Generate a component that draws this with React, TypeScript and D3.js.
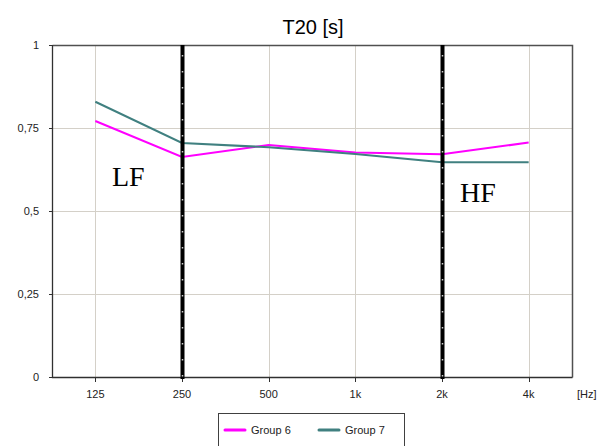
import React, { useEffect, useRef } from 'react';
import * as d3 from 'd3';

const bands = ['125', '250', '500', '1k', '2k', '4k'];
const group6 = [0.771, 0.663, 0.699, 0.676, 0.671, 0.706];
const group7 = [0.829, 0.705, 0.692, 0.672, 0.647, 0.647];
const yTicks = [0, 0.25, 0.5, 0.75, 1];
const yTickLabels = ['0', '0,25', '0,5', '0,75', '1'];
const markers = ['250', '2k'];
const seriesNames = ['Group 6', 'Group 7'];
const seriesColors = ['#ff00ff', '#408080'];

const App = () => {
  const svgRef = useRef<SVGSVGElement>(null);

  useEffect(() => {
    const width = 603;
    const height = 446;
    const left = 52, right = 572, top = 45, bottom = 377;
    const font = '"Liberation Sans", Arial, sans-serif';

    const svg = d3.select(svgRef.current)
      .attr('width', width)
      .attr('height', height);
    svg.selectAll('*').remove();

    svg.append('rect').attr('width', width).attr('height', height).attr('fill', '#fff');

    const x = d3.scaleBand().domain(bands).range([left, right]);
    const cx = (d: string) => (x(d) as number) + x.bandwidth() / 2;
    const y = d3.scaleLinear().domain([0, 1]).range([bottom, top]);

    // title
    svg.append('text')
      .attr('x', 313)
      .attr('y', 34)
      .attr('text-anchor', 'middle')
      .style('font-family', font)
      .style('font-size', '20px')
      .text('T20 [s]');

    // grid
    const grid = svg.append('g').attr('stroke', '#d4d0c8').attr('stroke-width', 1);
    grid.selectAll('line.h')
      .data(yTicks.slice(1, -1))
      .enter()
      .append('line')
      .attr('x1', left).attr('x2', right)
      .attr('y1', d => Math.round(y(d)) + 0.5).attr('y2', d => Math.round(y(d)) + 0.5);
    grid.selectAll('line.v')
      .data(bands)
      .enter()
      .append('line')
      .attr('x1', d => Math.round(cx(d)) + 0.5).attr('x2', d => Math.round(cx(d)) + 0.5)
      .attr('y1', top).attr('y2', bottom);

    // frame
    svg.append('path')
      .attr('d', `M${left + 0.5},${top + 0.5}H${right + 0.5}V${bottom + 0.5}`)
      .attr('fill', 'none')
      .attr('stroke', '#505050')
      .attr('stroke-width', 1.5);
    svg.append('path')
      .attr('d', `M${left + 0.5},${top}V${bottom + 0.5}H${right + 0.5}`)
      .attr('fill', 'none')
      .attr('stroke', '#303030')
      .attr('stroke-width', 1.3);

    // y ticks
    const yAxis = svg.append('g');
    yAxis.selectAll('line')
      .data(yTicks)
      .enter()
      .append('line')
      .attr('x1', left - 3).attr('x2', left)
      .attr('y1', d => Math.round(y(d)) + 0.5).attr('y2', d => Math.round(y(d)) + 0.5)
      .attr('stroke', '#303030');
    yAxis.selectAll('text')
      .data(yTicks)
      .enter()
      .append('text')
      .attr('x', 39)
      .attr('y', d => y(d) + 4)
      .attr('text-anchor', 'end')
      .style('font-family', font)
      .style('font-size', '11px')
      .style('fill', '#222')
      .text((d, i) => yTickLabels[i]);

    // x ticks
    const xAxis = svg.append('g');
    xAxis.selectAll('line')
      .data(bands)
      .enter()
      .append('line')
      .attr('x1', d => Math.round(cx(d)) + 0.5).attr('x2', d => Math.round(cx(d)) + 0.5)
      .attr('y1', bottom).attr('y2', bottom + 5)
      .attr('stroke', '#303030');
    xAxis.selectAll('text')
      .data(bands)
      .enter()
      .append('text')
      .attr('x', d => cx(d))
      .attr('y', 398)
      .attr('text-anchor', 'middle')
      .style('font-family', font)
      .style('font-size', '11px')
      .style('fill', '#222')
      .text(d => d);
    svg.append('text')
      .attr('x', 577)
      .attr('y', 398)
      .style('font-family', font)
      .style('font-size', '11px')
      .style('fill', '#222')
      .text('[Hz]');

    // series
    const line = d3.line<number>()
      .x((d, i) => cx(bands[i]))
      .y(d => y(d));
    [group6, group7].forEach((s, k) => {
      svg.append('path')
        .datum(s)
        .attr('d', line)
        .attr('fill', 'none')
        .attr('stroke', seriesColors[k])
        .attr('stroke-width', 2);
    });

    // LF / HF markers
    markers.forEach(m => {
      const mx = Math.round(cx(m)) + 0.5;
      svg.append('line')
        .attr('x1', mx).attr('x2', mx)
        .attr('y1', top).attr('y2', bottom + 2)
        .attr('stroke', '#000')
        .attr('stroke-width', 4);
      svg.append('line')
        .attr('x1', mx).attr('x2', mx)
        .attr('y1', top + 10).attr('y2', bottom)
        .attr('stroke', '#ccc')
        .attr('stroke-width', 1.5)
        .attr('stroke-dasharray', '1.5,14.5');
    });

    svg.append('text')
      .attr('x', 112).attr('y', 186)
      .style('font-family', '"Liberation Serif", "Times New Roman", serif')
      .style('font-size', '28px')
      .text('LF');
    svg.append('text')
      .attr('x', 460).attr('y', 202)
      .style('font-family', '"Liberation Serif", "Times New Roman", serif')
      .style('font-size', '28px')
      .text('HF');

    // legend
    const lg = svg.append('g');
    lg.append('rect')
      .attr('x', 218.5).attr('y', 413.5)
      .attr('width', 186).attr('height', 40)
      .attr('fill', '#fff')
      .attr('stroke', '#404040')
      .attr('stroke-width', 1);
    const items = lg.selectAll('g.item')
      .data(seriesNames)
      .enter()
      .append('g')
      .attr('transform', (d, i) => `translate(${225 + i * 94},430)`);
    items.append('line')
      .attr('x1', 0).attr('x2', 20)
      .attr('y1', 0).attr('y2', 0)
      .attr('stroke', (d, i) => seriesColors[i])
      .attr('stroke-width', 3)
      .attr('stroke-linecap', 'round');
    items.append('text')
      .attr('x', 26)
      .attr('y', 4)
      .style('font-family', font)
      .style('font-size', '11px')
      .style('fill', '#222')
      .text(d => d);
  }, []);

  return (
    <div style={{ position: 'absolute', left: 0, top: 0 }}>
      <svg ref={svgRef}></svg>
    </div>
  );
};

export default App;
